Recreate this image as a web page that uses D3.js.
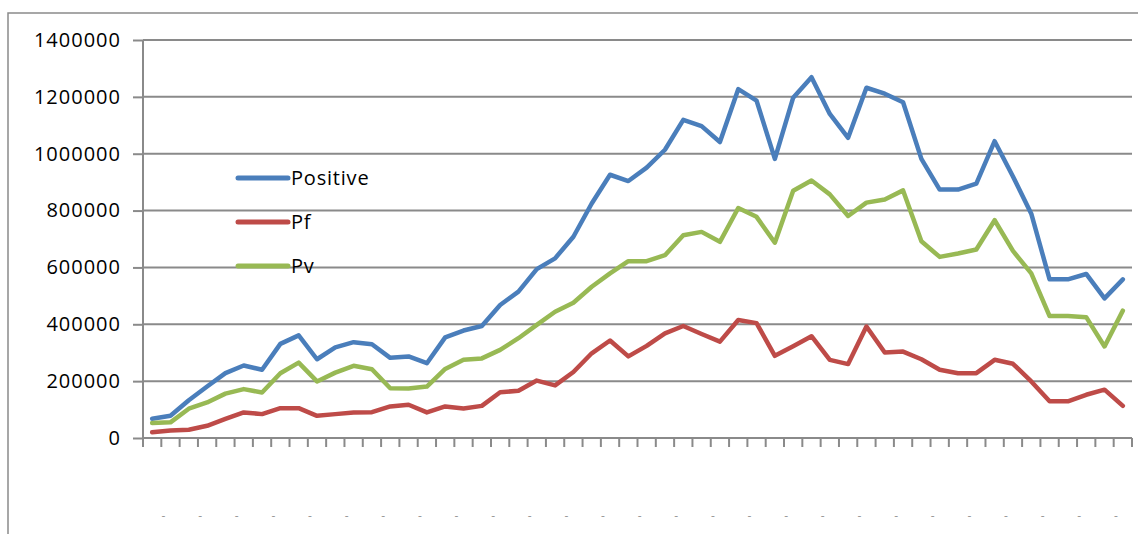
<!DOCTYPE html>
<html>
<head>
<meta charset="utf-8">
<script src="https://cdn.jsdelivr.net/npm/d3@7"></script>
<style>
  body { margin: 0; background: #fff; }
  text { font-family: "Open Sans", sans-serif; }
</style>
</head>
<body>
<svg width="1138" height="534"></svg>
<script>
// 54 periods on the x axis; their labels are clipped to little dashes in the original
const categories = d3.range(54).map(i => 'P' + (i + 1));
const tickLabels = categories.map((c, i) => (i % 2 === 1 ? '-' : ''));

const positive = [68000, 78000, 133000, 181000, 228000, 255000, 240000, 331000, 361000, 277000,
  319000, 337000, 330000, 282000, 287000, 263000, 354000, 378000, 394000, 468000,
  515000, 594000, 632000, 708000, 825000, 926000, 904000, 951000, 1014000, 1119000,
  1097000, 1041000, 1227000, 1187000, 982000, 1197000, 1269000, 1140000, 1056000, 1232000,
  1211000, 1181000, 982000, 874000, 874000, 895000, 1044000, 920000, 789000, 558000,
  558000, 577000, 491000, 558000];
const pf = [20000, 26000, 29000, 43000, 67000, 90000, 84000, 105000, 105000, 78000,
  84000, 90000, 91000, 111000, 117000, 90000, 111000, 104000, 113000, 161000,
  166000, 202000, 185000, 232000, 298000, 343000, 287000, 324000, 368000, 394000,
  366000, 339000, 415000, 404000, 289000, 323000, 358000, 275000, 260000, 392000,
  301000, 304000, 277000, 240000, 228000, 228000, 275000, 261000, 199000, 129000,
  129000, 152000, 170000, 113000];
const pv = [53000, 55000, 103000, 125000, 156000, 172000, 160000, 228000, 265000, 199000,
  230000, 254000, 242000, 175000, 174000, 181000, 243000, 275000, 280000, 310000,
  351000, 398000, 444000, 476000, 532000, 579000, 622000, 622000, 643000, 713000,
  725000, 690000, 809000, 778000, 687000, 870000, 906000, 857000, 781000, 828000,
  839000, 871000, 692000, 637000, 649000, 663000, 766000, 658000, 579000, 429000,
  429000, 425000, 322000, 448000];
const yTicks = [0, 200000, 400000, 600000, 800000, 1000000, 1200000, 1400000];

const seriesNames = ['Positive', 'Pf', 'Pv'];
const seriesValues = [positive, pf, pv];
const colors = ['#4a7ebb', '#be4b48', '#98b954'];

const svg = d3.select('svg');
const grey = '#8a8a8a';

const margin = { top: 40, left: 143 };
const innerWidth = 1132 - margin.left;
const innerHeight = 438 - margin.top;

// outer chart-area frame (runs past the picture on the right and bottom)
svg.append('rect')
    .attr('x', 8).attr('y', 13)
    .attr('width', 1160).attr('height', 560)
    .attr('fill', 'none')
    .attr('stroke', grey)
    .attr('stroke-width', 1.5);

const g = svg.append('g')
    .attr('transform', `translate(${margin.left}, ${margin.top})`);

const xScale = d3.scaleBand()
    .domain(categories)
    .range([0, innerWidth]);

const yScale = d3.scaleLinear()
    .domain([0, 1400000])
    .range([innerHeight, 0]);

// gridlines + y labels
const yAxisG = g.append('g')
    .call(d3.axisLeft(yScale)
        .tickValues(yTicks)
        .tickFormat(d3.format('d'))
        .tickSize(10)
        .tickPadding(12));
yAxisG.select('.domain').remove();
yAxisG.selectAll('.tick line').attr('stroke', grey).attr('stroke-width', 2);
yAxisG.selectAll('.tick text')
    .attr('font-size', 20)
    .attr('letter-spacing', 1)
    .attr('fill', '#000');

g.append('g')
    .selectAll('line')
    .data(yTicks.filter(d => d > 0))
    .enter().append('line')
        .attr('x1', 0)
        .attr('x2', innerWidth)
        .attr('y1', d => yScale(d))
        .attr('y2', d => yScale(d))
        .attr('stroke', grey)
        .attr('stroke-width', 2);

// y axis line
g.append('line')
    .attr('x1', 0).attr('x2', 0)
    .attr('y1', 0).attr('y2', innerHeight + 9)
    .attr('stroke', grey)
    .attr('stroke-width', 2);

// x axis: ticks between categories
const boundaries = categories.map(c => xScale(c)).concat([innerWidth]);
const xAxisG = g.append('g')
    .attr('transform', `translate(0, ${innerHeight})`);
xAxisG.append('line')
    .attr('x1', 0).attr('x2', innerWidth)
    .attr('stroke', grey)
    .attr('stroke-width', 2);
xAxisG.selectAll('.xtick').data(boundaries)
    .enter().append('line')
        .attr('class', 'xtick')
        .attr('x1', d => d).attr('x2', d => d)
        .attr('y1', 0).attr('y2', 9)
        .attr('stroke', grey)
        .attr('stroke-width', 2);
xAxisG.selectAll('.xlabel')
    .data(categories.filter((c, i) => tickLabels[i] !== ''))
    .enter().append('text')
        .attr('class', 'xlabel')
        .attr('x', d => xScale(d) + xScale.bandwidth() / 2 - 7)
        .attr('y', 82)
        .attr('text-anchor', 'middle')
        .attr('font-size', 12)
        .attr('fill', '#999')
        .text(d => tickLabels[categories.indexOf(d)]);

// series lines
const line = d3.line()
    .x((d, i) => xScale(categories[i]) + xScale.bandwidth() / 2)
    .y(d => yScale(d));

g.selectAll('.series').data(seriesValues)
    .enter().append('path')
        .attr('class', 'series')
        .attr('d', line)
        .attr('fill', 'none')
        .attr('stroke', (d, i) => colors[i])
        .attr('stroke-width', 4.5)
        .attr('stroke-linejoin', 'round')
        .attr('stroke-linecap', 'round');

// legend
const legend = svg.append('g')
    .attr('transform', 'translate(238, 178)');
const items = legend.selectAll('g').data(seriesNames)
    .enter().append('g')
        .attr('transform', (d, i) => `translate(0, ${i * 44})`);
items.append('line')
    .attr('x1', 0).attr('x2', 50)
    .attr('stroke', (d, i) => colors[i])
    .attr('stroke-width', 5)
    .attr('stroke-linecap', 'round');
items.append('text')
    .attr('x', 53)
    .attr('y', 7)
    .attr('font-size', 20)
    .attr('letter-spacing', 0.8)
    .attr('fill', '#000')
    .text(d => d);
</script>
</body>
</html>
